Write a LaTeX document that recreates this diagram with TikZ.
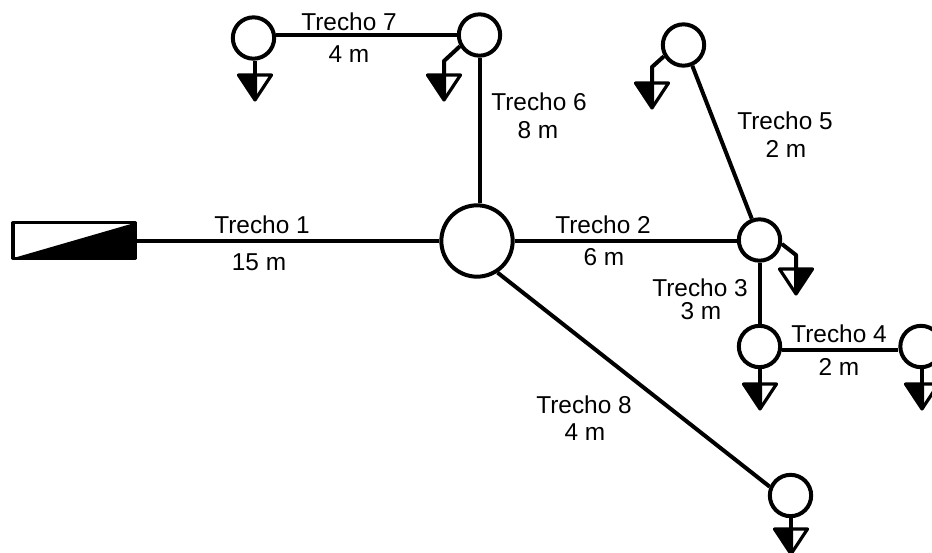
\documentclass[tikz,border=0pt]{standalone}
\usepackage{fontspec}
\setmainfont{Liberation Sans}
\usetikzlibrary{calc}
\tikzset{
  wire/.style={line width=3pt},
  junction/.style={circle,draw,line width=3pt,fill=white,minimum size=31pt,inner sep=0pt},
  mainjunction/.style={junction,minimum size=53.5pt},
  tankbox/.style={rectangle,draw,line width=2.4pt,line join=round,minimum width=91.5pt,minimum height=26.5pt,inner sep=0pt,outer sep=0pt},
  lbl/.style={font=\fontsize{18.3}{20}\selectfont,inner sep=0pt}
}
\newcommand{\tapL}[1]
{   \fill (#1) ++(2,0) -- ++(-18.5,0) -- ++(16.5,25) -- ++(2,-3) -- cycle;
    \draw[line width=2.4pt,line join=round] (#1) ++(-16.5,0) -- ++(33,0) -- ++(-16.5,25) -- cycle;
}
\newcommand{\tapR}[1]
{   \fill (#1) ++(-2,0) -- ++(18.5,0) -- ++(-16.5,25) -- ++(-2,-3) -- cycle;
    \draw[line width=2.4pt,line join=round] (#1) ++(-16.5,0) -- ++(33,0) -- ++(-16.5,25) -- cycle;
}
\begin{document}
\begin{tikzpicture}[x=0.75pt,y=-0.75pt]
 \useasboundingbox (0,0) rectangle (932,553);

 \node[tankbox] (tank) at (74,240.5) {};
 \fill (tank.south west) -- (tank.north east) -- (tank.south east) -- cycle;

 \node[mainjunction] (main) at (477,241) {};
 \node[junction] (n2) at (759.5,240) {};
 \node[junction] (n3) at (759.5,346.5) {};
 \node[junction] (n4) at (921,346.5) {};
 \node[junction] (n5) at (683.5,45) {};
 \node[junction] (n6) at (479.5,35) {};
 \node[junction] (n7) at (253.5,38) {};
 \node[junction] (n8) at (790.5,495.5) {};

 % pipes
 \draw[wire] (tank.east |- main) -- (main);
 \draw[wire] (main) -- (n2.west |- main);
 \draw[wire] (n2.south -| n3) -- (n3);
 \draw[wire] ([yshift=-2.5pt]n3.east) -- ([yshift=-2.5pt]n4.west);
 \draw[wire] (n5.-67) -- (n2.110);
 \draw[wire] (n6.south) -- (n6.south |- main.north);
 \draw[wire] (n7.east |- n6) -- (n6);
 \draw[wire] (main.-57) -- (n8.157);

 % outlets
 \coordinate (o2) at (796,269);
 \coordinate (o3) at (760,384);
 \coordinate (o4) at (922,384);
 \coordinate (o5) at (652,83);
 \coordinate (o6) at (444,75);
 \coordinate (o7) at (255,75);
 \coordinate (o8) at (791,529);
 \draw[wire,line join=round] (n2.-10) -- (796,255) -- (o2);
 \draw[wire] (n3.south -| o3) -- (o3);
 \draw[wire] (n4.south -| o4) -- (o4);
 \draw[wire,line join=round] (n5.-150) -- (652,67) -- (o5);
 \draw[wire,line join=round] (n6.-150) -- (444,61) -- (o6);
 \draw[wire] (n7.south -| o7) -- (o7);
 \draw[wire] (n8.south -| o8) -- (o8);
 \tapR{o2} \tapL{o3} \tapL{o4} \tapL{o5} \tapL{o6} \tapL{o7} \tapL{o8}

 % labels
 \node[lbl] (t1) at (262,225) {Trecho 1};
 \node[lbl] (m1) at (259,262) {15 m};
 \node[lbl] (t2) at (603,225) {Trecho 2};
 \node[lbl] (m2) at (604,257) {6 m};
 \node[lbl] (t3) at (700,288) {Trecho 3};
 \node[lbl] (m3) at (701,311) {3 m};
 \node[lbl] (t4) at (839,334) {Trecho 4};
 \node[lbl] (m4) at (839,367) {2 m};
 \node[lbl] (t5) at (785,121) {Trecho 5};
 \node[lbl] (m5) at (786,149) {2 m};
 \node[lbl] (t6) at (539,102) {Trecho 6};
 \node[lbl] (m6) at (538,130) {8 m};
 \node[lbl] (t7) at (349,22) {Trecho 7};
 \node[lbl] (m7) at (349,54) {4 m};
 \node[lbl] (t8) at (584,405) {Trecho 8};
 \node[lbl] (m8) at (585,432) {4 m};
\end{tikzpicture}
\end{document}
